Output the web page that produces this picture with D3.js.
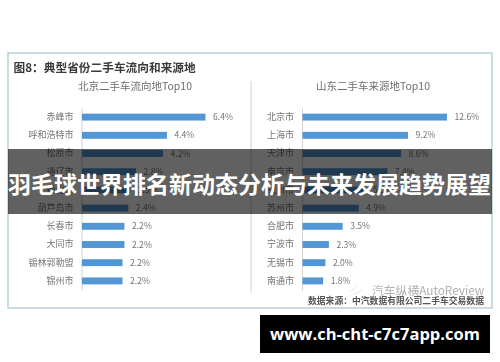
<!DOCTYPE html>
<html lang="zh">
<head>
<meta charset="UTF-8">
<title>羽毛球世界排名新动态分析与未来发展趋势展望</title>
<script src="https://cdn.jsdelivr.net/npm/d3@7"></script>
<style>
    html, body { margin: 0; padding: 0; background: #fff; }
    svg { display: block; }
    text { font-family: "Noto Sans CJK SC", sans-serif; }
</style>
</head>
<body>
<div id="grafica"></div>
<script>
    // datos (fila 5 tapada por el banner: estimada)
    const pageTitle = "羽毛球世界排名新动态分析与未来发展趋势展望"
    const figTitle = "图8：典型省份二手车流向和来源地"
    const leftTitle = "北京二手车流向地Top10"
    const rightTitle = "山东二手车来源地Top10"
    const leftCities = ["赤峰市", "呼和浩特市", "松原市", "通辽市", "通化市", "葫芦岛市", "长春市", "大同市", "锡林郭勒盟", "锦州市"]
    const leftValues = [6.4, 4.4, 4.2, 2.8, 2.5, 2.4, 2.2, 2.2, 2.2, 2.2]
    const leftWidths = [6.4, 4.4, 4.2, 2.8, 2.5, 2.4, 2.2, 2.2, 2.1, 2.1]
    const rightCities = ["北京市", "上海市", "天津市", "南京市", "杭州市", "苏州市", "合肥市", "宁波市", "无锡市", "南通市"]
    const rightValues = [12.6, 9.2, 8.6, 7.4, 5.5, 4.9, 3.5, 2.3, 2.0, 1.8]
    const source = "数据来源：中汽数据有限公司二手车交易数据"
    const mark = "汽车纵横AutoReview"
    const site = "www.ch-cht-c7c7app.com"

    const ancho = 500, alto = 362
    const svg = d3.select("#grafica").append("svg")
        .attr("width", ancho).attr("height", alto)

    const chart = svg.append("g").style("filter", "blur(0.6px)")

    chart.append("rect")
        .attr("x", 8).attr("y", 53).attr("width", 484).attr("height", 255)
        .attr("fill", "#fff").attr("stroke", "#b4ccd6").attr("stroke-width", 1.4)

    chart.append("line")
        .attr("x1", 251).attr("x2", 251).attr("y1", 81).attr("y2", 293)
        .attr("stroke", "#c5d6de").attr("stroke-width", 1)

    chart.append("text").attr("x", 13.5).attr("y", 72)
        .attr("font-size", 11.7).attr("font-weight", 700).attr("fill", "#3a3a3a")
        .text(figTitle)

    function panel(title, cx, cities, values, widths, x) {
        const y = d3.scaleBand().domain(cities).range([108, 290]).paddingInner(0.62).paddingOuter(0.31)

        chart.append("text").attr("x", cx).attr("y", 90)
            .attr("text-anchor", "middle").attr("font-size", 10.5).attr("fill", "#6e6e6e")
            .text(title)

        const axis = chart.append("g")
            .attr("transform", "translate(" + x(0) + ",0)")
            .call(d3.axisLeft(y).tickSize(0).tickPadding(8))
        axis.select(".domain").attr("stroke", "#d2d2d2").attr("stroke-width", 1)
        axis.selectAll("text")
            .attr("font-size", 9).attr("fill", "#757575")
            .style("font-family", '"Noto Sans CJK SC", sans-serif')

        chart.append("g").selectAll("rect")
            .data(cities)
            .enter()
            .append("rect")
            .attr("x", x(0) + 0.5)
            .attr("y", d => y(d))
            .attr("width", (d, i) => x(widths[i]) - x(0))
            .attr("height", y.bandwidth())
            .attr("fill", "#5296d5")

        chart.append("g").selectAll("text")
            .data(cities)
            .enter()
            .append("text")
            .attr("x", (d, i) => x(widths[i]) + 8)
            .attr("y", d => y(d) + y.bandwidth() / 2)
            .attr("dy", "0.35em")
            .attr("font-size", 8.6)
            .attr("fill", "#757575")
            .text((d, i) => values[i].toFixed(1) + "%")
    }

    panel(leftTitle, 135, leftCities, leftValues, leftWidths,
        d3.scaleLinear().domain([0, 6.4]).range([81.5, 205]))
    panel(rightTitle, 373, rightCities, rightValues, rightValues,
        d3.scaleLinear().domain([0, 12.6]).range([302, 446.5]))

    chart.append("text").attr("x", 372).attr("y", 295)
        .attr("font-size", 11.8).attr("fill", "#b0b0b0").text(mark)

    chart.append("path")
        .attr("d", "M350 291 q5 -1 7 -7 M354 294 q5 -1 8 -5")
        .attr("fill", "none").attr("stroke", "#b8c4c8")
        .attr("stroke-width", 1).attr("stroke-dasharray", "1 1.5")

    chart.append("text").attr("x", 308).attr("y", 303.5)
        .attr("font-size", 8.8).attr("font-weight", 700).attr("fill", "#555")
        .style("font-family", '"Noto Sans CJK TC", serif')
        .text(source)

    // banner
    svg.append("rect")
        .attr("x", 8).attr("y", 149).attr("width", 484).attr("height", 65)
        .attr("fill", "#000").attr("opacity", 0.62)

    svg.append("text").attr("x", 249.5).attr("y", 193)
        .attr("text-anchor", "middle").attr("font-size", 23).attr("font-weight", 700)
        .attr("fill", "#fff")
        .text(pageTitle)

    svg.append("rect")
        .attr("x", 260).attr("y", 315).attr("width", 230).attr("height", 38)
        .attr("fill", "#000")

    svg.append("text").attr("x", 375).attr("y", 339.5)
        .attr("text-anchor", "middle").attr("font-size", 16.5).attr("font-weight", 700)
        .attr("fill", "#fff")
        .style("font-family", '"Open Sans", sans-serif')
        .text(site)
</script>
</body>
</html>
